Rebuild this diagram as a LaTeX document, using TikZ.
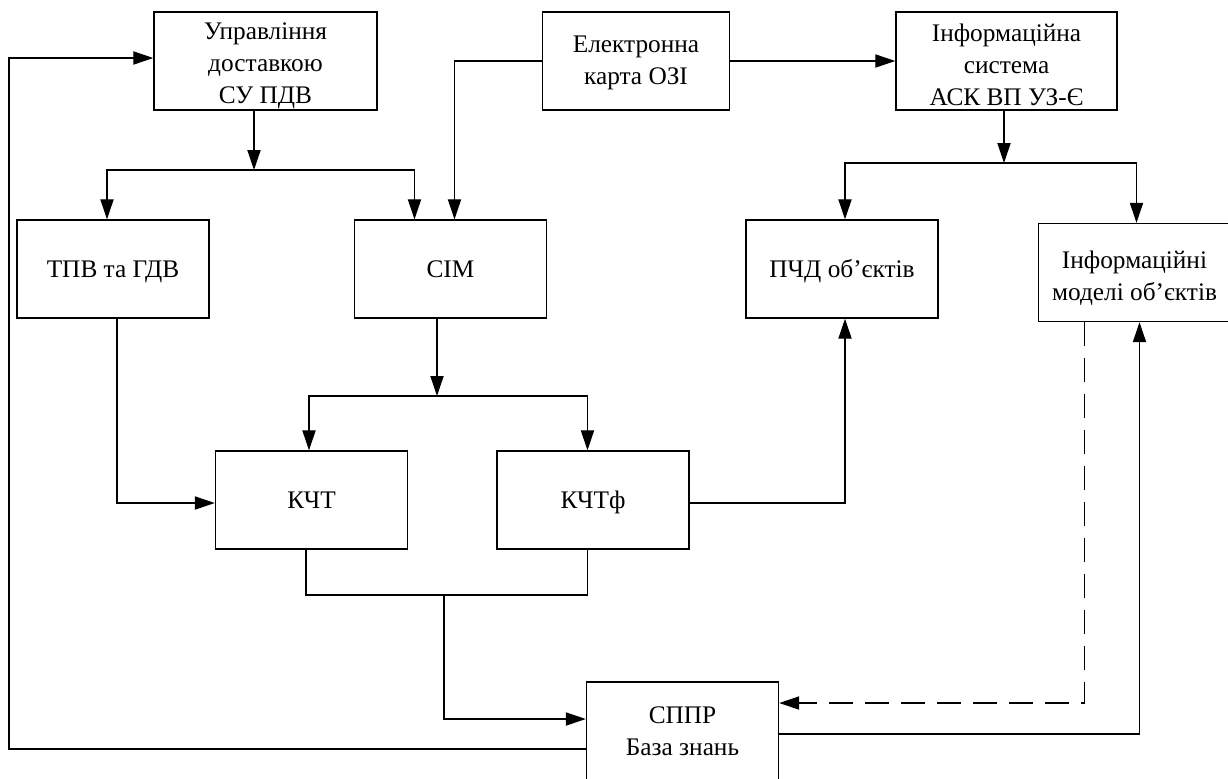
\documentclass[tikz,border=0pt]{standalone}
\usepackage{fontspec}
\setmainfont{Liberation Serif}
\usetikzlibrary{arrows.meta,positioning,calc}

\tikzset{
  blok/.style={draw, line width=1pt, minimum width=4.8cm, minimum height=2.45cm, align=center, inner xsep=1pt, inner ysep=0pt, font=\fontsize{18}{22.8}\selectfont},
  one/.style={text height=12pt, text depth=0pt},
  con/.style={line width=0.9pt},
  arr/.style={con, -{Triangle[length=0.5cm, width=0.33cm]}},
  dashline/.style={dash pattern=on 0.6cm off 0.3cm},
}
\newcommand{\topline}[1]{\rule{0pt}{#1}}

\begin{document}
\begin{tikzpicture}[x=0.025cm, y=-0.025cm]
			\useasboundingbox (0,0) rectangle (1228,778);
			
			% upper row
			\node[blok, minimum width=5.575cm] (upr) at (265.5,61) {\topline{19pt}Управління\\доставкою\\СУ ПДВ};
			\node[blok, minimum width=4.675cm, right=4.1cm of upr] (karta) {\topline{14.5pt}Електронна\\карта ОЗІ};
			\node[blok, minimum width=5.525cm, right=4.125cm of karta] (infsys) {\topline{18pt}Інформаційна\\система\\АСК ВП УЗ-Є};
			
			% middle row
			\node[blok, one] (tpv) at (113,269) {ТПВ та ГДВ};
			\node[blok, one, right=3.6cm of tpv] (sim) {СІМ};
			\node[blok, one, right=4.95cm of sim] (pchd) {ПЧД об’єктів};
			\node[blok, right=2.475cm of pchd, yshift=-0.0875cm] (infmod) {\topline{21pt}Інформаційні\\моделі об’єктів};
			
			% lower row
			\node[blok, one] (kcht) at (311.5,500) {КЧТ};
			\node[blok, one, right=2.2cm of kcht] (kchtf) {КЧТф};
			\node[blok] (sppr) at (682.5,731) {СППР\\База знань};
			
			% junctions
			\coordinate (s1) at (254,170);
			\coordinate (s2) at (1004,163);
			\coordinate (s3) at (437,396);
			\coordinate (s4) at (444,595);
			\coordinate (lft) at (9,400);
			
			\draw[arr] (upr.south -| s1) -- (s1);
			\draw[arr] (s1) -| ($(tpv.north)+(-6,0)$);
			\draw[arr] (s1) -| ($(sim.north)+(-36,0)$);
			\draw[arr] (karta.west) -| ($(sim.north)+(4,0)$);
			\draw[arr] (karta.east) -- (infsys.west);
			
			\draw[arr] (infsys.south -| s2) -- (s2);
			\draw[arr] (s2) -| ($(pchd.north)+(3,0)$);
			\draw[arr] (s2) -| ($(infmod.north)+(2,0)$);
			
			\draw[arr] (sim.south -| s3) -- (s3);
			\draw[arr] (s3) -| ($(kcht.north)+(-2.5,0)$);
			\draw[arr] (s3) -| ($(kchtf.north)+(-5.5,0)$);
			\draw[arr] ($(tpv.south)+(4,0)$) |- ($(kcht.west)+(0,3)$);
			\draw[arr] ($(kchtf.east)+(0,3)$) -| ($(pchd.south)+(3,0)$);
			
			\draw[con] ($(kcht.south)+(-5.5,0)$) |- (s4) -| ($(kchtf.south)+(-5.5,0)$);
			\draw[arr] (s4) |- ($(sppr.west)+(0,-12)$);
			\draw[arr, dashline] ($(infmod.south)+(-50,0)$) |- ($(sppr.east)+(0,-28)$);
			\draw[arr] ($(sppr.east)+(0,3)$) -| ($(infmod.south)+(5,0)$);
			\draw[arr] ($(sppr.west)+(0,18)$) -| (lft) |- ($(upr.west)+(0,-3)$);
		\end{tikzpicture}
\end{document}
